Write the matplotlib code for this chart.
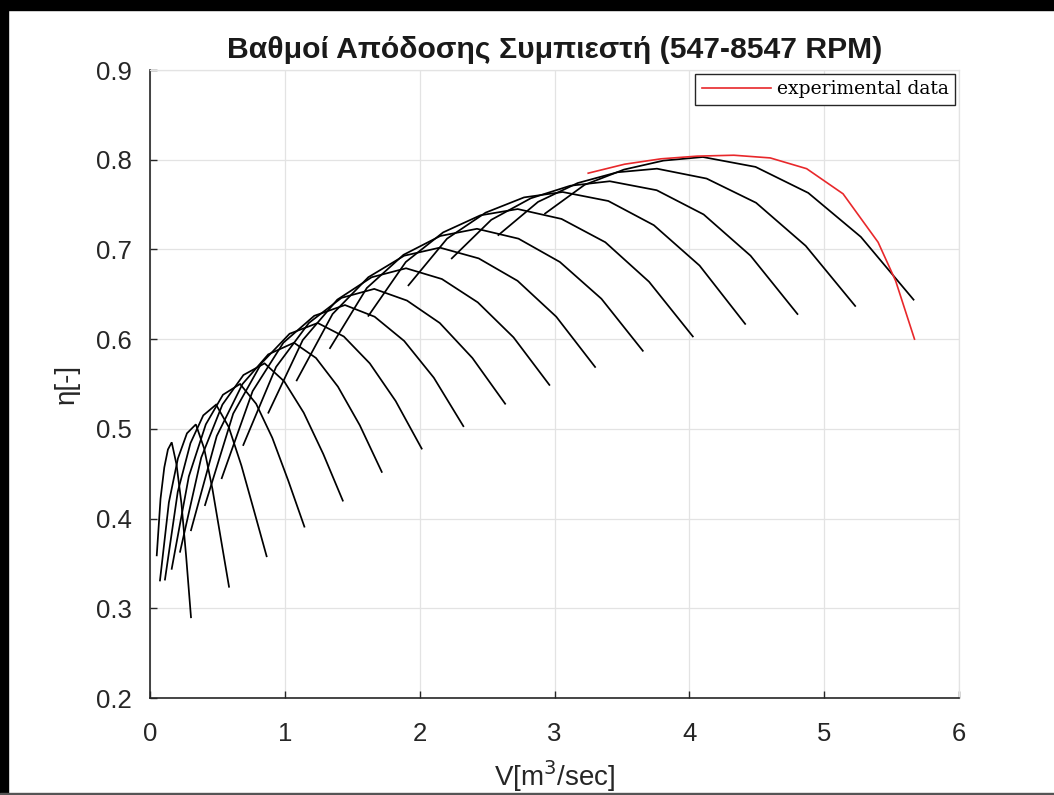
import matplotlib
matplotlib.use("Agg")
import matplotlib.pyplot as plt
from matplotlib.patches import Rectangle

# ---------------- data ----------------
rpm = [547, 1047, 1547, 2047, 2547, 3047, 3547, 4047, 4547,
       5047, 5547, 6047, 6547, 7047, 7547, 8047, 8547]

V_547 = [0.050, 0.078, 0.106, 0.133, 0.161, 0.197, 0.233, 0.268, 0.304]
ETA_547 = [0.359, 0.422, 0.457, 0.477, 0.485, 0.460, 0.417, 0.358, 0.290]
V_1047 = [0.074, 0.140, 0.207, 0.274, 0.340, 0.402, 0.463, 0.525, 0.586]
ETA_1047 = [0.331, 0.418, 0.467, 0.495, 0.505, 0.478, 0.433, 0.378, 0.324]
V_1547 = [0.111, 0.206, 0.300, 0.395, 0.490, 0.584, 0.678, 0.771, 0.865]
ETA_1547 = [0.332, 0.430, 0.484, 0.515, 0.527, 0.502, 0.459, 0.409, 0.358]
V_2047 = [0.161, 0.288, 0.414, 0.541, 0.668, 0.787, 0.907, 1.026, 1.145]
ETA_2047 = [0.344, 0.447, 0.505, 0.538, 0.550, 0.528, 0.490, 0.442, 0.391]
V_2547 = [0.223, 0.380, 0.537, 0.693, 0.850, 0.995, 1.140, 1.285, 1.430]
ETA_2547 = [0.363, 0.468, 0.527, 0.560, 0.573, 0.553, 0.518, 0.472, 0.420]
V_3047 = [0.304, 0.495, 0.686, 0.877, 1.068, 1.231, 1.394, 1.556, 1.719]
ETA_3047 = [0.387, 0.492, 0.550, 0.583, 0.596, 0.579, 0.547, 0.504, 0.452]
V_3547 = [0.408, 0.617, 0.826, 1.035, 1.244, 1.437, 1.630, 1.822, 2.015]
ETA_3547 = [0.415, 0.517, 0.573, 0.606, 0.618, 0.603, 0.573, 0.531, 0.478]
V_4047 = [0.532, 0.761, 0.989, 1.218, 1.446, 1.666, 1.885, 2.105, 2.324]
ETA_4047 = [0.445, 0.542, 0.596, 0.626, 0.638, 0.625, 0.598, 0.557, 0.503]
V_4547 = [0.692, 0.935, 1.178, 1.420, 1.663, 1.906, 2.149, 2.391, 2.634]
ETA_4547 = [0.482, 0.569, 0.618, 0.646, 0.656, 0.643, 0.618, 0.579, 0.528]
V_5047 = [0.878, 1.133, 1.389, 1.644, 1.899, 2.165, 2.431, 2.696, 2.962]
ETA_5047 = [0.518, 0.599, 0.644, 0.669, 0.679, 0.667, 0.641, 0.602, 0.549]
V_5547 = [1.088, 1.354, 1.619, 1.885, 2.150, 2.438, 2.726, 3.013, 3.301]
ETA_5547 = [0.554, 0.628, 0.669, 0.693, 0.702, 0.690, 0.665, 0.625, 0.569]
V_6047 = [1.335, 1.608, 1.880, 2.153, 2.425, 2.733, 3.040, 3.348, 3.655]
ETA_6047 = [0.590, 0.657, 0.694, 0.715, 0.723, 0.712, 0.686, 0.645, 0.587]
V_6547 = [1.620, 1.897, 2.174, 2.450, 2.727, 3.052, 3.377, 3.701, 4.026]
ETA_6547 = [0.626, 0.686, 0.719, 0.738, 0.745, 0.734, 0.708, 0.664, 0.603]
V_7047 = [1.917, 2.203, 2.489, 2.774, 3.060, 3.399, 3.737, 4.076, 4.414]
ETA_7047 = [0.660, 0.712, 0.741, 0.758, 0.764, 0.754, 0.727, 0.682, 0.617]
V_7547 = [2.238, 2.531, 2.824, 3.117, 3.410, 3.758, 4.106, 4.454, 4.802]
ETA_7547 = [0.690, 0.733, 0.757, 0.771, 0.776, 0.766, 0.739, 0.693, 0.628]
V_8047 = [2.584, 2.878, 3.172, 3.466, 3.760, 4.128, 4.495, 4.863, 5.230]
ETA_8047 = [0.716, 0.753, 0.774, 0.786, 0.790, 0.779, 0.752, 0.704, 0.637]
V_8547 = [2.930, 3.223, 3.515, 3.808, 4.100, 4.491, 4.882, 5.272, 5.663]
ETA_8547 = [0.740, 0.772, 0.789, 0.799, 0.803, 0.792, 0.763, 0.714, 0.644]

V_exp = [3.25, 3.52, 3.79, 4.06, 4.33, 4.60, 4.87, 5.14, 5.40, 5.53, 5.67]
ETA_exp = [0.785, 0.795, 0.801, 0.804, 0.805, 0.802, 0.790, 0.762, 0.708, 0.665, 0.600]

x_ticks = [0, 1, 2, 3, 4, 5, 6]
y_ticks = [0.2, 0.3, 0.4, 0.5, 0.6, 0.7, 0.8, 0.9]
y_ticklabels = ["0.2", "0.3", "0.4", "0.5", "0.6", "0.7", "0.8", "0.9"]

speed_V = [V_547, V_1047, V_1547, V_2047, V_2547, V_3047, V_3547, V_4047, V_4547,
           V_5047, V_5547, V_6047, V_6547, V_7047, V_7547, V_8047, V_8547]
speed_ETA = [ETA_547, ETA_1047, ETA_1547, ETA_2047, ETA_2547, ETA_3047, ETA_3547,
             ETA_4047, ETA_4547, ETA_5047, ETA_5547, ETA_6047, ETA_6547, ETA_7047,
             ETA_7547, ETA_8047, ETA_8547]

# ---------------- figure ----------------
plt.rcParams['font.family'] = ['Liberation Sans', 'DejaVu Sans']
W, H = 1054, 795
fig = plt.figure(figsize=(W / 100, H / 100), dpi=100)
fig.patch.set_facecolor('white')

ax = fig.add_axes([150 / W, 1 - 698 / H, (959 - 150) / W, (698 - 70) / H])

for vx, ey in zip(speed_V, speed_ETA):
    ax.plot(vx, ey, color='black', lw=1.25, solid_joinstyle='miter')

exp_line, = ax.plot(V_exp, ETA_exp, color='#e8282b', lw=1.2, label='experimental data')

ax.set_xlim(0, 6)
ax.set_ylim(0.2, 0.9)
ax.set_xticks(x_ticks)
ax.set_yticks(y_ticks)
ax.set_yticklabels(y_ticklabels)
ax.grid(True, color='#e3e3e3', lw=0.9)
ax.set_axisbelow(True)

for s in ['top', 'right']:
    ax.spines[s].set_color('#e3e3e3')
    ax.spines[s].set_linewidth(0.9)
for s in ['left', 'bottom']:
    ax.spines[s].set_color('#262626')
    ax.spines[s].set_linewidth(1.2)

ax.tick_params(axis='both', direction='in', length=5, width=1.0, colors='#262626',
               labelsize=18.5, labelcolor='#262626')
ax.tick_params(axis='x', pad=17)
ax.tick_params(axis='y', pad=13)

ax.set_title('Βαθμοί Απόδοσης Συμπιεστή (547-8547 RPM)', fontsize=21.7,
             fontweight='bold', color='#1a1a1a', pad=9)
ax.set_xlabel('V[m$^3$/sec]', fontsize=20, color='#262626', labelpad=9)
ax.set_ylabel('η[-]', fontsize=20, color='#262626', labelpad=12)

leg = ax.legend(handles=[exp_line], loc='upper right', frameon=True, fancybox=False,
                edgecolor='#262626', framealpha=1, borderpad=0.35, handlelength=3.7,
                handletextpad=0.3, borderaxespad=0.2,
                prop={'family': 'DejaVu Serif', 'size': 13.5})
leg.get_frame().set_linewidth(1.0)

# outer frame (black bars at top and left, thin line at bottom)
fig.patches.append(Rectangle((0, 1 - 10 / H), 1, 10 / H, transform=fig.transFigure,
                             color='black', zorder=10))
fig.patches.append(Rectangle((0, 0), 8 / W, 1, transform=fig.transFigure,
                             color='black', zorder=10))
fig.patches.append(Rectangle((0, 0), 1, 2 / H, transform=fig.transFigure,
                             color='#555555', zorder=10))

fig.savefig('out.png', dpi=100)
